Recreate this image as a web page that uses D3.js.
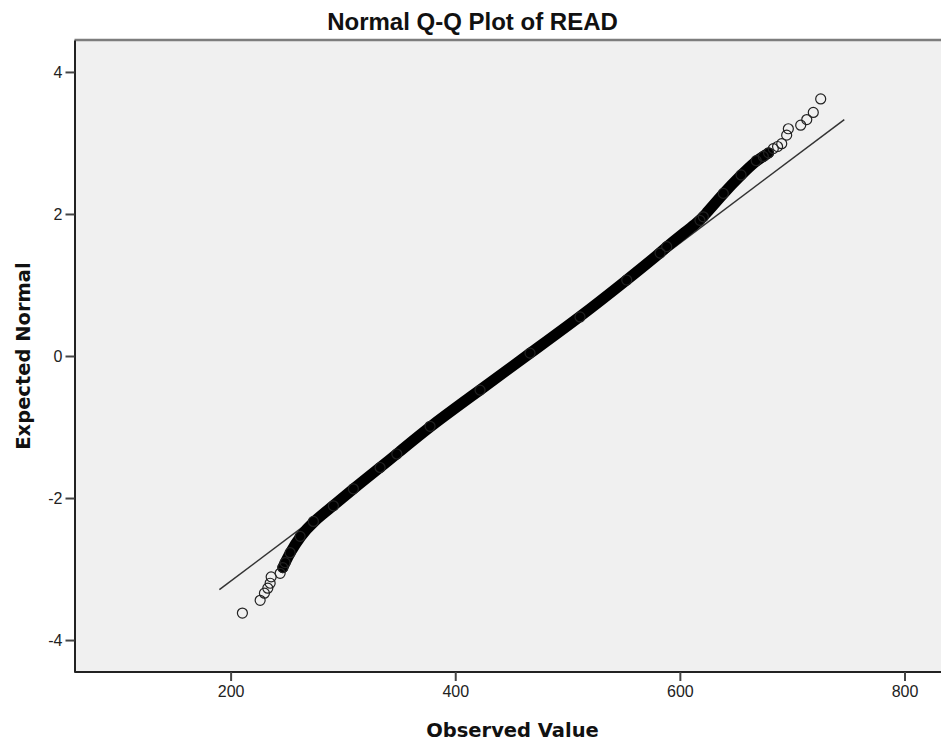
<!DOCTYPE html>
<html>
<head>
<meta charset="utf-8">
<script src="https://cdn.jsdelivr.net/npm/d3@7"></script>
<style>
  body { margin: 0; background: #fff; }
  .tick text { font-family: "Liberation Sans", Arial, sans-serif; font-size: 16px; fill: #222; }
  .axisText { font-family: "DejaVu Sans", Verdana, sans-serif; font-weight: bold; font-size: 19.5px; fill: #111; }
</style>
</head>
<body>
<div id="qq"></div>
<script>
// values: observed READ score vs expected normal
let lowTailObs = [210.5, 226.3, 230.1, 233.1, 235.2, 236.1, 244.1];
let lowTailExp = [-3.62, -3.44, -3.34, -3.27, -3.20, -3.11, -3.06];

let bandObs = [246.5, 248.5, 253.0, 261.9, 273.7, 291.5, 309.3, 333.1, 348.0, 377.6, 422.1,
               466.6, 511.1, 552.7, 582.4, 588.3, 617.9, 620.9, 638.7, 654.5, 668.0, 674.3, 679.0];
let bandExp = [-2.98, -2.91, -2.77, -2.54, -2.33, -2.11, -1.87, -1.57, -1.38, -0.99, -0.48,
               0.04, 0.55, 1.07, 1.45, 1.54, 1.91, 1.96, 2.29, 2.55, 2.75, 2.81, 2.86];

let highTailObs = [683.2, 687.0, 690.7, 695.1, 696.6, 707.6, 713.0, 718.8, 725.4];
let highTailExp = [2.92, 2.95, 2.99, 3.11, 3.20, 3.25, 3.33, 3.43, 3.62];

// reference line end points
let lineObs = [190, 746.4];
let lineExp = [-3.29, 3.33];

let xTicks = [200, 400, 600, 800];
let yTicks = [-4, -2, 0, 2, 4];

function drawChart() {

    let width = 941;
    let height = 747;
    let left = 74.5, right = 950, top = 40, bottom = 672;

    let svg = d3.select("#qq")
        .append("svg")
        .attr("width", width)
        .attr("height", height);

    let xl = d3.scaleLinear()
        .domain([61, 840])
        .range([left, 949.4]);

    let yl = d3.scaleLinear()
        .domain([-4.45, 4.45])
        .range([bottom, top]);

    //plot background
    svg.append("rect")
        .attr("x", left)
        .attr("y", top)
        .attr("width", right - left)
        .attr("height", bottom - top)
        .attr("fill", "#f0f0f0");

    //top border is grey in the original
    svg.append("line")
        .attr("x1", left).attr("x2", right)
        .attr("y1", top).attr("y2", top)
        .attr("stroke", "#7d7d7d")
        .attr("stroke-width", 2.5);

    //axes, plain hyphen for the minus sign like SPSS
    let xAxis = d3.axisBottom(xl).tickValues(xTicks).tickFormat(d => String(d))
        .tickSize(9).tickPadding(5).tickSizeOuter(0);
    let yAxis = d3.axisLeft(yl).tickValues(yTicks).tickFormat(d => String(d))
        .tickSize(9).tickPadding(3).tickSizeOuter(0);

    let gx = svg.append("g")
        .attr("transform", `translate(0, ${bottom})`)
        .call(xAxis);
    let gy = svg.append("g")
        .attr("transform", `translate(${left}, 0)`)
        .call(yAxis);

    [gx, gy].forEach(function(g) {
        g.attr("font-size", 16).attr("font-family", "Liberation Sans, Arial, sans-serif");
        g.select(".domain").attr("stroke", "#222").attr("stroke-width", 2);
        g.selectAll(".tick line").attr("stroke", "#444").attr("stroke-width", 2);
    });
    gx.select(".domain").attr("d", `M${left},0H${right}`);

    //fitted normal line
    let line = d3.line()
        .x(d => xl(d[0]))
        .y(d => yl(d[1]));

    svg.append("path")
        .datum(d3.zip(lineObs, lineExp))
        .attr("d", line)
        .attr("fill", "none")
        .attr("stroke", "#333")
        .attr("stroke-width", 1.5);

    //the dense part of the cloud: overlapping markers look like a solid band
    let band = d3.zip(bandObs, bandExp);
    svg.append("path")
        .datum(band)
        .attr("d", line.curve(d3.curveBasis))
        .attr("fill", "none")
        .attr("stroke", "#000")
        .attr("stroke-width", 11)
        .attr("stroke-linecap", "round");

    let points = d3.zip(lowTailObs, lowTailExp)
        .concat(band)
        .concat(d3.zip(highTailObs, highTailExp));

    svg.append("g")
        .selectAll("circle")
        .data(points)
        .enter()
        .append("circle")
        .attr("cx", d => xl(d[0]))
        .attr("cy", d => yl(d[1]))
        .attr("r", 5)
        .attr("fill", "none")
        .attr("stroke", "#222")
        .attr("stroke-width", 1.2);

    //title and axis labels
    svg.append("text")
        .attr("x", 472.5)
        .attr("y", 30)
        .attr("text-anchor", "middle")
        .attr("font-family", "Liberation Sans, Arial, sans-serif")
        .attr("font-weight", "bold")
        .attr("font-size", "24px")
        .attr("fill", "#111")
        .text("Normal Q-Q Plot of READ");

    svg.append("text")
        .attr("class", "axisText")
        .attr("x", 512.5)
        .attr("y", 737)
        .attr("text-anchor", "middle")
        .text("Observed Value");

    svg.append("text")
        .attr("class", "axisText")
        .attr("transform", `translate(30, ${yl(0)}) rotate(-90)`)
        .attr("text-anchor", "middle")
        .text("Expected Normal");
}

drawChart();
</script>
</body>
</html>
